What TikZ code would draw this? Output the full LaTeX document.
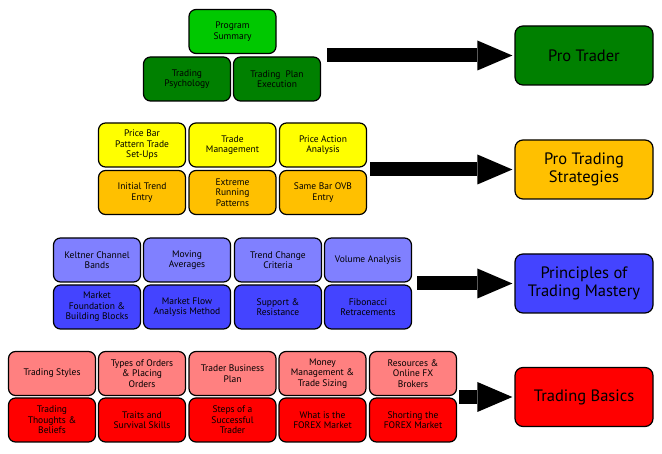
\documentclass[tikz,border=0pt]{standalone}
\usepackage{fontspec}
\setmainfont{PT Sans}
\usetikzlibrary{arrows.meta,calc}
\definecolor{brgreen}{RGB}{0,200,0}
\definecolor{dkgreen}{RGB}{0,128,0}
\definecolor{yel}{RGB}{255,255,0}
\definecolor{org}{RGB}{255,192,0}
\definecolor{lblue}{RGB}{128,128,255}
\definecolor{dblue}{RGB}{68,68,255}
\definecolor{lred}{RGB}{255,128,128}
\definecolor{dred}{RGB}{255,0,0}
\tikzset{
  sbox/.style={draw=black, line width=1.2pt, rounded corners=7pt, minimum width=87pt, minimum height=44pt,
    inner sep=1pt, align=center, font=\fontsize{9.5}{10.5}\selectfont, text=black},
  bbox/.style={draw=black, line width=1.2pt, rounded corners=8pt, minimum width=138pt, minimum height=59pt,
    inner sep=1pt, align=center, font=\fontsize{16.5}{18}\selectfont, text=black},
  bigarrow/.style={line width=14pt, black, -{Triangle[length=35pt,width=30pt,line width=0pt]}, shorten >=2pt}
}
\begin{document}
\begin{tikzpicture}[x=1pt,y=-1pt]
\useasboundingbox[fill=white] (0,0) rectangle (662,454);
% level 1
\node[sbox, fill=brgreen] (ps) at (232.5,31.5) {Program\\Summary};
\node[sbox, fill=dkgreen] (tp) at (187,79) {Trading\\Psychology};
\node[sbox, fill=dkgreen] (tpe) at (277,79) {Trading\ \ Plan\\Execution};
\node[bbox, fill=dkgreen] (pro) at (584,55.5) {Pro Trader};
% level 2
\node[sbox, fill=yel] (pb) at (142,145) {Price Bar\\Pattern Trade\\Set-Ups};
\node[sbox, fill=yel] (tm) at (232.5,145) {Trade\\Management};
\node[sbox, fill=yel] (pa) at (323,145) {Price Action\\Analysis};
\node[sbox, fill=org] (it) at (142,192.5) {Initial Trend\\Entry};
\node[sbox, fill=org] (er) at (232.5,192.5) {Extreme\\Running\\Patterns};
\node[sbox, fill=org] (sb) at (323,192.5) {Same Bar OVB\\Entry};
\node[bbox, fill=org] (pts) at (584,169.5) {Pro Trading\\Strategies};
% level 3
\node[sbox, fill=lblue] (kc) at (97,260) {Keltner Channel\\Bands};
\node[sbox, fill=lblue] (ma) at (187,260) {Moving\\Averages};
\node[sbox, fill=lblue] (tc) at (278,260) {Trend Change\\Criteria};
\node[sbox, fill=lblue] (va) at (368,260) {Volume Analysis};
\node[sbox, fill=dblue] (mf) at (97,307) {Market\\Foundation \&\\Building Blocks};
\node[sbox, fill=dblue] (mfa) at (187,307) {Market Flow\\Analysis Method};
\node[sbox, fill=dblue] (sr) at (278,307) {Support \&\\Resistance};
\node[sbox, fill=dblue] (fr) at (368,307) {Fibonacci\\Retracements};
\node[bbox, fill=dblue] (ptm) at (584,283.5) {Principles of\\Trading Mastery};
% level 4
\node[sbox, fill=lred] (ts) at (52,373.5) {Trading Styles};
\node[sbox, fill=lred] (to) at (142,373.5) {Types of Orders\\\& Placing\\Orders};
\node[sbox, fill=lred] (tbp) at (232.5,373.5) {Trader Business\\Plan};
\node[sbox, fill=lred] (mm) at (322.5,373.5) {Money\\Management \&\\Trade Sizing};
\node[sbox, fill=lred] (ro) at (413,373.5) {Resources \&\\Online FX\\Brokers};
\node[sbox, fill=dred] (tt) at (52,420) {Trading\\Thoughts \&\\Beliefs};
\node[sbox, fill=dred] (tss) at (142,420) {Traits and\\Survival Skills};
\node[sbox, fill=dred] (ss) at (232.5,420) {Steps of a\\Successful\\Trader};
\node[sbox, fill=dred] (wf) at (322.5,420) {What is the\\FOREX Market};
\node[sbox, fill=dred] (sf) at (413,420) {Shorting the\\FOREX Market};
\node[bbox, fill=dred] (tb) at (584,397) {Trading Basics};
% arrows
\draw[bigarrow] ([xshift=6pt]tpe.east |- pro.west) -- (pro.west);
\draw[bigarrow] ([xshift=3pt]pa.east |- pts.west) -- (pts.west);
\draw[bigarrow] ([xshift=5pt]va.east |- ptm.west) -- (ptm.west);
\draw[bigarrow] ([xshift=2pt]ro.east |- tb.west) -- (tb.west);
\end{tikzpicture}
\end{document}
